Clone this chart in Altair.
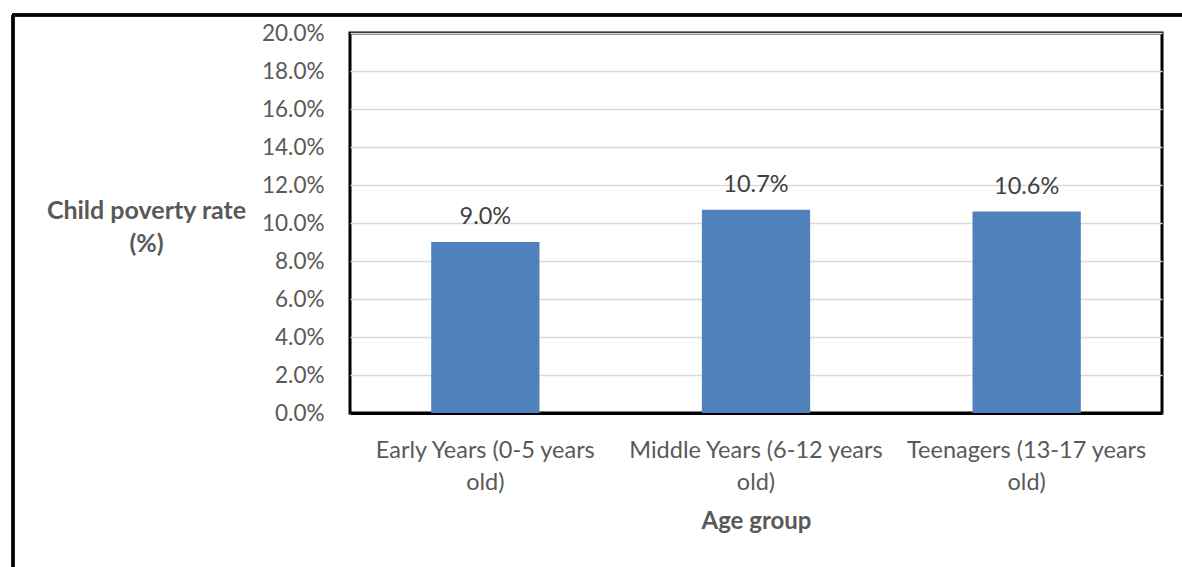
import altair as alt
import pandas as pd

categories = ["Early Years (0-5 years old)", "Middle Years (6-12 years old)", "Teenagers (13-17 years old)"]
rates = [0.090, 0.107, 0.106]
y_ticks = [0.0, 0.02, 0.04, 0.06, 0.08, 0.10, 0.12, 0.14, 0.16, 0.18, 0.20]

df = pd.DataFrame({"group": categories, "rate": rates})

FONT = "Lato"
GREY = "#595959"

x_enc = alt.X(
    "group:N",
    sort=categories,
    scale=alt.Scale(paddingInner=0.6, paddingOuter=0.3),
    axis=alt.Axis(
        title="Age group",
        labelAngle=0,
        labelExpr="[replace(datum.label, ' old)', ''), 'old)']",
        labelFont=FONT, labelFontSize=23.5, labelColor=GREY,
        labelLineHeight=32, labelPadding=25, labelLimit=400,
        labelBaseline="top",
        titleFont=FONT, titleFontSize=24, titleFontWeight="bold", titleColor=GREY,
        titlePadding=16,
        ticks=False, domainColor="#000000", domainWidth=3,
    ),
)
y_enc = alt.Y(
    "rate:Q",
    scale=alt.Scale(domain=[0, 0.2], nice=False),
    axis=alt.Axis(
        values=y_ticks, tickCount=11, format=".1%", labelOverlap=False,
        labelFont=FONT, labelFontSize=22.5, labelColor=GREY, labelPadding=26,
        ticks=False, domain=False,
        gridColor="#d9d9d9", gridWidth=1.5,
        title=["Child poverty rate", "(%)"],
        titleFont=FONT, titleFontSize=25, titleFontWeight="bold", titleColor=GREY,
        titleAngle=0, titleAlign="center", titleBaseline="middle",
        titleX=-204, titleY=177, titleLineHeight=33,
    ),
)

bars = alt.Chart(df).mark_bar(color="#4f81bd").encode(x=x_enc, y=y_enc)
labels = alt.Chart(df).mark_text(
    font=FONT, fontSize=23.5, color="#404040", baseline="middle", dy=-25
).encode(x=alt.X("group:N", sort=categories), y="rate:Q", text=alt.Text("rate:Q", format=".1%"))

frame_left = alt.Chart(df).mark_rule(color="#000000", strokeWidth=3).encode(
    x=alt.value(-337), y=alt.value(-18), y2=alt.value(540)
)
frame_top = alt.Chart(df).mark_rule(color="#000000", strokeWidth=3).encode(
    x=alt.value(-338), x2=alt.value(840), y=alt.value(-18)
)

chart = alt.layer(bars, labels, frame_left, frame_top).properties(
    width=812, height=380,
    autosize=alt.AutoSizeParams(type="none"),
    padding={"left": 350, "top": 33, "right": 20, "bottom": 154},
).configure(background="white").configure_view(stroke="#000000", strokeWidth=3)

chart.save("out.html", embed_options={"renderer": "svg", "actions": False})
